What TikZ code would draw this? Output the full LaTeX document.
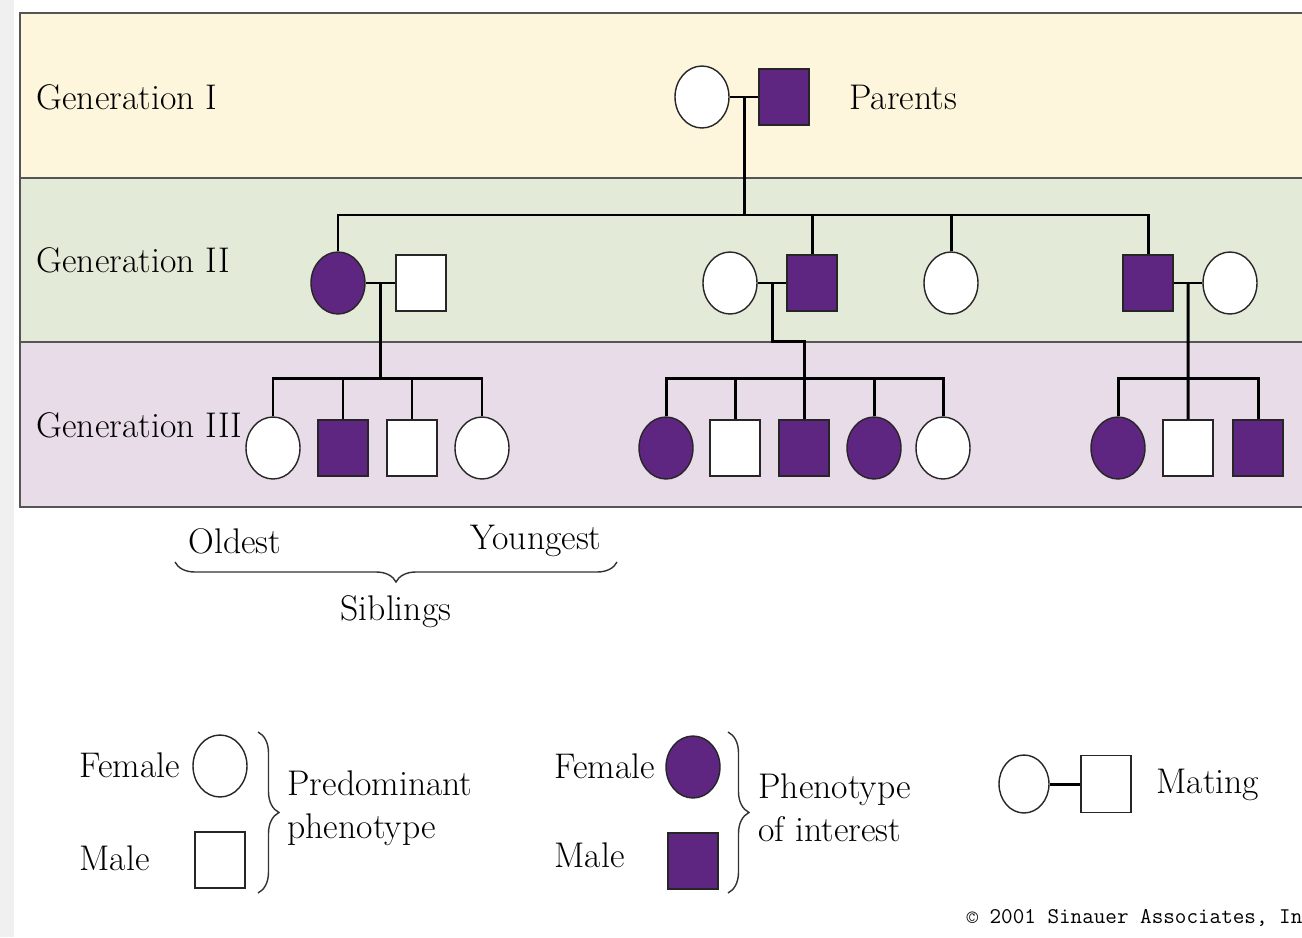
\documentclass[tikz,border=0pt]{standalone}
\usepackage{fontspec}
\usetikzlibrary{shapes.geometric, calc, decorations.pathreplacing}
\definecolor{cpurple}{HTML}{5E2680}
\definecolor{cyellow}{HTML}{FDF6DC}
\definecolor{cgreen}{HTML}{E3EAD7}
\definecolor{cpink}{HTML}{E8DCE8}
\definecolor{cgrey}{HTML}{555555}
\newcommand{\pedfont}{\fontsize{20.3}{24.4}\selectfont}
\tikzset{
  every picture/.style={font=\pedfont, line width=1.7pt},
  female/.style={ellipse, draw=black!85, line width=0.8pt, fill=#1, minimum width=1.08cm, minimum height=1.24cm, inner sep=0pt},
  female/.default=white,
  male/.style={rectangle, draw=black!85, line width=0.8pt, fill=#1, minimum width=1cm, minimum height=1.12cm, inner sep=0pt},
  male/.default=white,
  band/.style={draw=cgrey, line width=1.1pt},
  txt/.style={anchor=west, inner sep=0pt, align=left},
  curly/.style={decorate, decoration={brace, amplitude=#1}, draw=black!80, line width=0.8pt},
}

\begin{document}
\begin{tikzpicture}[x=0.02cm, y=-0.02cm]
  \useasboundingbox (0,0) rectangle (1302,937);
  \fill[white] (0,0) rectangle (1302,937);
  \fill[black!6] (0,0) rectangle (14,937);
  % the three generation bands
  \fill[cyellow] (20,13) rectangle (1302,178);
  \fill[cgreen] (20,178) rectangle (1302,342);
  \fill[cpink] (20,342) rectangle (1302,507);
  \draw[band] (1302,13) -- (20,13) -- (20,507) -- (1302,507);
  \draw[band] (20,178) -- (1302,178);
  \draw[band] (20,342) -- (1302,342);
  \node[txt] (gen1) at (35,97) {Generation I};
  \node[txt] (gen2) at (35,260) {Generation II};
  \node[txt] (gen3) at (35,425) {Generation III};
  % generation I
  \node[female] (p1) at (702,97) {};
  \node[male=cpurple] (p2) at (784,97) {};
  \node[txt] (parents) at (848,97) {Parents};
  % generation II
  \node[female=cpurple] (a) at (338,283) {};
  \node[male] (ah) at (421,283) {};
  \node[female] (bw) at (730,283) {};
  \node[male=cpurple] (b) at (812,283) {};
  \node[female] (c) at (951,283) {};
  \node[male=cpurple] (d) at (1148,283) {};
  \node[female] (dw) at (1230,283) {};
  % generation III, oldest on the left
  \foreach \nm/\x/\col in {l1/273/white, l4/482/white, m1/666/cpurple, m4/874/cpurple, m5/943/white, r1/1118/cpurple}
    \node[female=\col] (\nm) at (\x,448) {};
  \foreach \nm/\x/\col in {l2/343/cpurple, l3/412/white, m2/735/white, m3/804/cpurple, r2/1188/white, r3/1258/cpurple}
    \node[male=\col] (\nm) at (\x,448) {};
  % matings and descent lines
  \draw (p1.east) -- (p2.west);
  \coordinate (mate1) at ($(p1.east)!0.5!(p2.west)$);
  \draw (mate1) -- ++(0,118) coordinate (bar1);
  \draw (a.north) |- (bar1) -| (d.north);
  \foreach \n in {b, c}
    \draw (\n.north) -- (\n.north |- bar1);
  \draw (a.east) -- (ah.west);
  \coordinate (mate2) at ($(a.east)!0.5!(ah.west)$);
  \draw (mate2) -- ++(0,95) coordinate (bar2);
  \draw (l1.north) |- (bar2) -| (l4.north);
  \foreach \n in {l2, l3}
    \draw (\n.north) -- (\n.north |- bar2);
  \draw (bw.east) -- (b.west);
  \coordinate (mate3) at ($(bw.east)!0.5!(b.west)$);
  \draw (mate3) -- ++(0,58) -| (m3.north);
  \coordinate (bar3) at (m3.north |- bar2);
  \draw (m1.north) |- (bar3) -| (m5.north);
  \foreach \n in {m2, m4}
    \draw (\n.north) -- (\n.north |- bar3);
  \draw (d.east) -- (dw.west);
  \coordinate (mate4) at ($(d.east)!0.5!(dw.west)$);
  \draw (mate4) -- (r2.north);
  \coordinate (bar4) at (r2.north |- bar2);
  \draw (r1.north) |- (bar4) -| (r3.north);
  % siblings brace
  \node[txt] (oldest) at (187,541) {Oldest};
  \node[txt, anchor=east] (youngest) at (603,541) {Youngest};
  \draw[curly=0.4cm, decoration={mirror}] (175,562) -- (617,562);
  \node (siblings) at (396,612) {Siblings};
  % legend
  \node[txt] (fem1) at (78,765) {Female};
  \node[female] (lf) at (220,766) {};
  \node[txt] (male1) at (78,858) {Male};
  \node[male] (lm) at (220,860) {};
  \draw[curly=0.42cm] (258,732) -- (258,893);
  \node[txt] (pred) at (286,808) {Predominant\\phenotype};
  \node[txt] (fem2) at (553,766) {Female};
  \node[female=cpurple] (pf) at (693,767) {};
  \node[txt] (male2) at (553,855) {Male};
  \node[male=cpurple] (pm) at (693,861) {};
  \draw[curly=0.42cm] (728,732) -- (728,893);
  \node[txt] (pheno) at (757,808) {Phenotype\\of interest};
  \node[female, minimum width=1cm, minimum height=1.16cm] (mf) at (1024,784) {};
  \node[male, minimum height=1.14cm] (mm) at (1106,784) {};
  \draw (mf.east) -- (mm.west);
  \node[txt] (mating) at (1155,785) {Mating};
  \node[txt, font=\ttfamily\fontsize{12.8}{14}\selectfont] (copy) at (965,918) {\textcopyright{} 2001 Sinauer Associates, In};
\end{tikzpicture}
\end{document}
